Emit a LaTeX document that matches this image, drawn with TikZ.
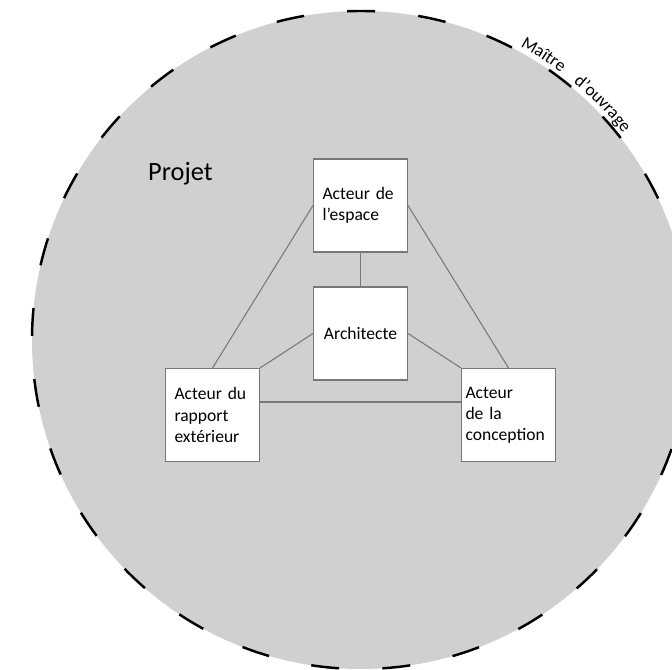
\documentclass[tikz,border=0pt]{standalone}
\usepackage{fontspec}
\setmainfont{Carlito}
\usetikzlibrary{decorations.text}
\definecolor{fondprojet}{RGB}{208,208,208}
\definecolor{trait}{RGB}{120,120,120}
\tikzset{
  acteur/.style={draw=trait, line width=0.6pt, fill=white, minimum width=1.88cm,
    minimum height=1.86cm, text width=1.52cm, inner xsep=0.18cm, align=left},
  lien/.style={draw=trait, line width=0.6pt}
}
\begin{document}
\begin{tikzpicture}[x=0.02cm, y=0.02cm]
   \useasboundingbox (0,0) rectangle (672,669);

   \fill[fondprojet] (361,329) circle[radius=329];
   \draw[line width=1.4pt, dash pattern=on 0.56cm off 0.866cm, dash phase=1.352cm]
     (361,329) circle[radius=329];

   \path[decorate, decoration={text along path, text={Maître}}]
     (361,329) ++(61.5:334) arc[start angle=61.5, end angle=40, radius=334];
   \path[decorate, decoration={text along path, text={d'ouvrage}}]
     (361,329) ++(50.5:334) arc[start angle=50.5, end angle=20, radius=334];

   \node[font=\fontsize{15}{18}\selectfont, anchor=base west] (projet) at (142,488) {Projet};

   \node[acteur] (espace) at (360.5,463.5) {Acteur de\\l'espace};
   \node[acteur, align=center] (archi) at (360.5,335.5) {Architecte};
   \node[acteur] (rapport) at (212.5,254) {Acteur du\\rapport\\extérieur};
   \node[acteur, inner xsep=0.08cm, text width=1.72cm] (conception) at (508.5,254) {Acteur\\de la\\conception};

   \draw[lien] (espace) -- (archi);
   \draw[lien] (espace.west) -- (rapport.north);
   \draw[lien] (espace.east) -- (conception.north);
   \draw[lien] (archi.west) -- (rapport.north east);
   \draw[lien] (archi.east) -- (conception.north west);
   \draw[lien] ([yshift=0.26cm]rapport.east) -- ([yshift=0.26cm]conception.west);
\end{tikzpicture}
\end{document}
